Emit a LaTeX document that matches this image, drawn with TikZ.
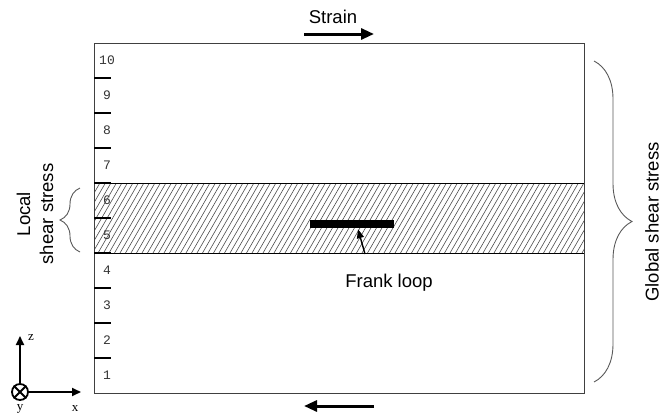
\documentclass[tikz,border=0pt]{standalone}
\usepackage{fontspec}
\setmainfont{Liberation Sans}
\newfontfamily\monof{Liberation Mono}
\newfontfamily\seriff{Liberation Serif}
\usetikzlibrary{decorations.pathreplacing,arrows.meta,calc}
\tikzset{
  frame/.style={draw=black!75, line width=1pt, minimum width=490pt, minimum height=350pt, inner sep=0pt, outer sep=0pt},
  bandbox/.style={minimum width=490pt, minimum height=70pt, inner sep=0pt, outer sep=0pt},
  tickline/.style={line width=2pt, black},
  num/.style={font=\monof\fontsize{13}{13}\selectfont, text=black!80, inner sep=0pt},
  lbl/.style={font=\fontsize{18.5}{23}\selectfont, inner sep=0pt},
  axlbl/.style={font=\seriff\fontsize{13}{13}\selectfont, inner sep=0pt},
  bigarrow/.style={line width=3pt, -{Triangle[length=13pt,width=11pt]}},
  smallarrow/.style={line width=1.4pt, -{Triangle[length=9pt,width=7pt]}},
  axarrow/.style={line width=1.8pt, -{Triangle[length=9pt,width=8pt]}},
  hatchline/.style={draw=black!70, line width=0.6pt},
  bracestyle/.style={draw=black!65, line width=0.9pt, decorate}
}
\begin{document}
\begin{tikzpicture}[x=1pt,y=-1pt]
\useasboundingbox (0,0) rectangle (671,415);
% main box and band
\node[frame] (box) at (339,218) {};
\node[bandbox] (band) at (339,218) {};
\begin{scope}
  \clip (band.south west) rectangle (band.north east);
  \foreach \i in {0,...,100} {
    \draw[hatchline] ({54+5.5*\i},253) -- ({54+5.5*\i+40.4},183);
  }
\end{scope}
\draw[black, line width=1pt] (band.north west) -- (band.north east);
\draw[black, line width=1pt] (band.south west) -- (band.south east);
\node[frame, fill=none] at (339,218) {};
% ticks
\foreach \y in {78,113,148,183,218,253,288,323,358} {
  \draw[tickline] (94,\y) -- (111,\y);
}
% layer numbers
\foreach \k in {1,...,10} {
  \node[num] (n\k) at (107,{60.5+35*(10-\k)}) {\k};
}
% Frank loop
\node[fill=black, minimum width=84pt, minimum height=8pt, inner sep=0pt] (loop) at (352,224) {};
\node[lbl] (fl) at (389,283) {Frank loop};
\coordinate (flt) at (365,254);
\draw[smallarrow] (flt) -- ($(loop.south)+(6,1)$);
% strain arrows
\node[lbl] (strain) at (333,17) {Strain};
\coordinate (sa1) at (304,34);
\coordinate (sa2) at (374,34);
\draw[bigarrow] (sa1) -- (sa2);
\coordinate (ba1) at (374,406);
\coordinate (ba2) at (304,406);
\draw[bigarrow] (ba1) -- (ba2);
% braces
\coordinate (lb1) at (80,252);
\coordinate (lb2) at (80,188);
\draw[bracestyle, decoration={brace, amplitude=20pt}] (lb1) -- (lb2);
\node[lbl, rotate=90, align=center] (local) at (35,214) {Local\\shear stress};
\coordinate (rb1) at (594,61);
\coordinate (rb2) at (594,382);
\draw[bracestyle, decoration={brace, amplitude=38pt}] (rb1) -- (rb2);
\node[lbl, rotate=90] (global) at (652,222) {Global shear stress};
% axes
\node[draw, circle, line width=1.8pt, minimum size=16pt, inner sep=0pt] (o) at (20,392) {};
\draw[line width=1.8pt] (o.north west) -- (o.south east);
\draw[line width=1.8pt] (o.north east) -- (o.south west);
\coordinate (zend) at (20,336);
\coordinate (xend) at (81,392);
\draw[axarrow] (o.north) -- (zend);
\draw[axarrow] (o.east) -- (xend);
\node[axlbl] (zl) at (31,338) {z};
\node[axlbl] (xl) at (75,409) {x};
\node[axlbl] (yl) at (20,409) {y};
\end{tikzpicture}
\end{document}
